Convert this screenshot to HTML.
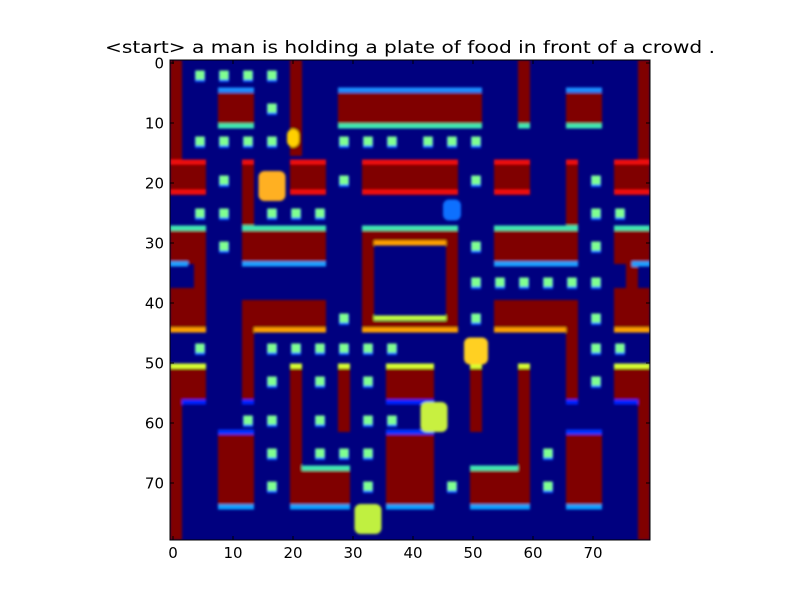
<!DOCTYPE html>
<html><head><meta charset="utf-8"><style>
body{margin:0;background:#fff;}
svg{display:block;font-family:"DejaVu Sans","Liberation Sans",sans-serif;}
</style></head><body>
<svg id="chart" width="800" height="600">
<rect width="800" height="600" fill="#fff"/>
<text x="410" y="53" text-anchor="middle" font-size="16.5" fill="#000" textLength="610" lengthAdjust="spacingAndGlyphs">&lt;start&gt; a man is holding a plate of food in front of a crowd .</text>
<defs><filter id="bl" x="-5%" y="-5%" width="110%" height="110%"><feGaussianBlur stdDeviation="1.3"/></filter>
<clipPath id="cp"><rect x="170" y="60" width="480" height="480"/></clipPath></defs>
<g id="img" clip-path="url(#cp)"></g>
<rect x="170" y="60" width="480" height="480" fill="none" stroke="#000" stroke-width="1"/>
<g id="axes"></g>
</svg>
<script>
const ticks=[0,10,20,30,40,50,60,70];
const walls=[[0,0,2,17],[78,0,80,17],[20,0,22,16],[58,0,60,11],[8,5.5,14,11],[66,5.5,72,11],[28,5.5,52,11],
[0,17,6,22.5],[74,17,80,22.5],[12,17,14,28],[66,17,68,28],[20,17,26,22.5],[54,17,60,22.5],[32,17,48,22.5],
[0,28,6,34],[12,28,26,34],[54,28,68,34],[74,28,80,34],[32,28,48,30.5],[32,28,34,45],[46,28,48,45],[32,43.5,48,45],
[4,34,6,45],[76,34,78,45],[0,38,6,45],[12,40,26,45],[54,40,68,45],[74,38,80,45],
[0,51,6,57],[0,57,2,80],[12,45,14,57],[66,45,68,57],[20,51,22,68],[20,68,30,74.5],[28,51,30,62],
[36,51,44,57],[36,62,44,74.5],[50,51,52,62],[58,51,60,68],[50,68,60,74.5],[74,51,80,57],[78,57,80,80],
[8,62,14,74.5],[66,62,72,74.5]];
const edgeY=[5,11,17,22,28,34,30.5,43,45,51,57,62,68,74.5];
const edgeColor=["#1e8fff","#40e8b0","#ee1010","#ee1010","#40e8b0","#1e9fff","#ffa000","#c0ff40","#ffa000","#d8ff30","#0020ff","#0030ff","#40e8b0","#10a0ff"];
const edgeSegs=[[[8,14],[28,52],[66,72]],[[8,14],[28,52],[66,72],[58,60]],[[0,6],[12,14],[20,26],[32,48],[54,60],[66,68],[74,80]],
[[0,6],[20,26],[32,48],[54,60],[74,80]],[[0,6],[12,26],[32,48],[54,68],[74,80]],[[0,3],[12,26],[54,68],[77,80]],[[34,46]],[[34,46]],
[[0,6],[14,26],[32,48],[54,66],[74,80]],[[0,6],[20,22],[28,30],[36,44],[50,52],[58,60],[74,80]],
[[2,6],[12,14],[36,44],[66,68],[74,78]],[[8,14],[36,44],[66,72]],[[22,30],[50,58]],[[8,14],[20,30],[36,44],[50,60],[66,72]]];
const pelletRows=[2.5,8,13.5,20,25.5,31,37,43,48,53.5,60,65.5,71];
const pelletCols=[[5,9,13,17],[17],[5,9,13,17,29,33,37,43,47,51],[9,29,51,71],[5,9,17,21,25,71,75],[9,51,71],[51,55,59,63,67,71],[29,51,71],[5,17,21,25,29,33,37,71,75],[17,25,33,71],[13,17,25,33,37],[17,25,29,33,63],[17,33,47,63]];
const sprites=[[17,21,4.5,5,"#ffb020"],[20.5,13,2,3,"#ffd000"],[51,48.5,4,4.5,"#ffd020"],[44,59.5,4.5,5,"#c8f040"],[33,76.5,4.5,5,"#c0f040"],[47,25,3,3.5,"#1070ff"]];
const X=d=>170+6*d, Y=d=>60+6*d;
const NS="http://www.w3.org/2000/svg";
const img=document.getElementById('img');
function mk(tag,at,parent){const e=document.createElementNS(NS,tag);for(const k in at)e.setAttribute(k,at[k]);parent.appendChild(e);return e;}
const bg=mk('rect',{x:170,y:60,width:480,height:480,fill:'#00007f'},img);


const g=mk('g',{filter:'url(#bl)'},img);


walls.forEach(w=>{const r=mk('rect',{x:X(w[0]),y:Y(w[1]),width:X(w[2])-X(w[0]),height:Y(w[3])-Y(w[1]),fill:'#800000'},g);

});
edgeY.forEach((y,i)=>{edgeSegs[i].forEach(s=>{const r=mk('rect',{x:X(s[0]),y:Y(y)-2.5,width:X(s[1])-X(s[0]),height:5,fill:edgeColor[i]},g);

});});
pelletRows.forEach((y,i)=>{pelletCols[i].forEach(x=>{
const h=mk('rect',{x:X(x)-5,y:Y(y)-4,width:10,height:11,fill:'#1060ff'},g);


const r=mk('rect',{x:X(x)-4.5,y:Y(y)-4.5,width:9,height:9,fill:'#80ff90'},g);

});});
sprites.forEach(s=>{const r=mk('rect',{x:X(s[0])-s[2]*3,y:Y(s[1])-s[3]*3,width:s[2]*6,height:s[3]*6,rx:6,fill:s[4]},g);

});
const ax=document.getElementById('axes');
ticks.forEach(t=>{
const px=X(t)+3, py=Y(t)+3;
[[px,540,px,536],[px,60,px,64]].forEach(l=>{const e=mk('line',{x1:l[0],y1:l[1],x2:l[2],y2:l[3],stroke:'#000'},ax);

});
[[170,py,174,py],[650,py,646,py]].forEach(l=>{const e=mk('line',{x1:l[0],y1:l[1],x2:l[2],y2:l[3],stroke:'#000'},ax);

});
const tx=mk('text',{x:px,y:558,'text-anchor':'middle','font-size':15},ax);tx.textContent=t;


const ty=mk('text',{x:164,y:py+5.5,'text-anchor':'end','font-size':15},ax);ty.textContent=t;


});
</script>
</body></html>
